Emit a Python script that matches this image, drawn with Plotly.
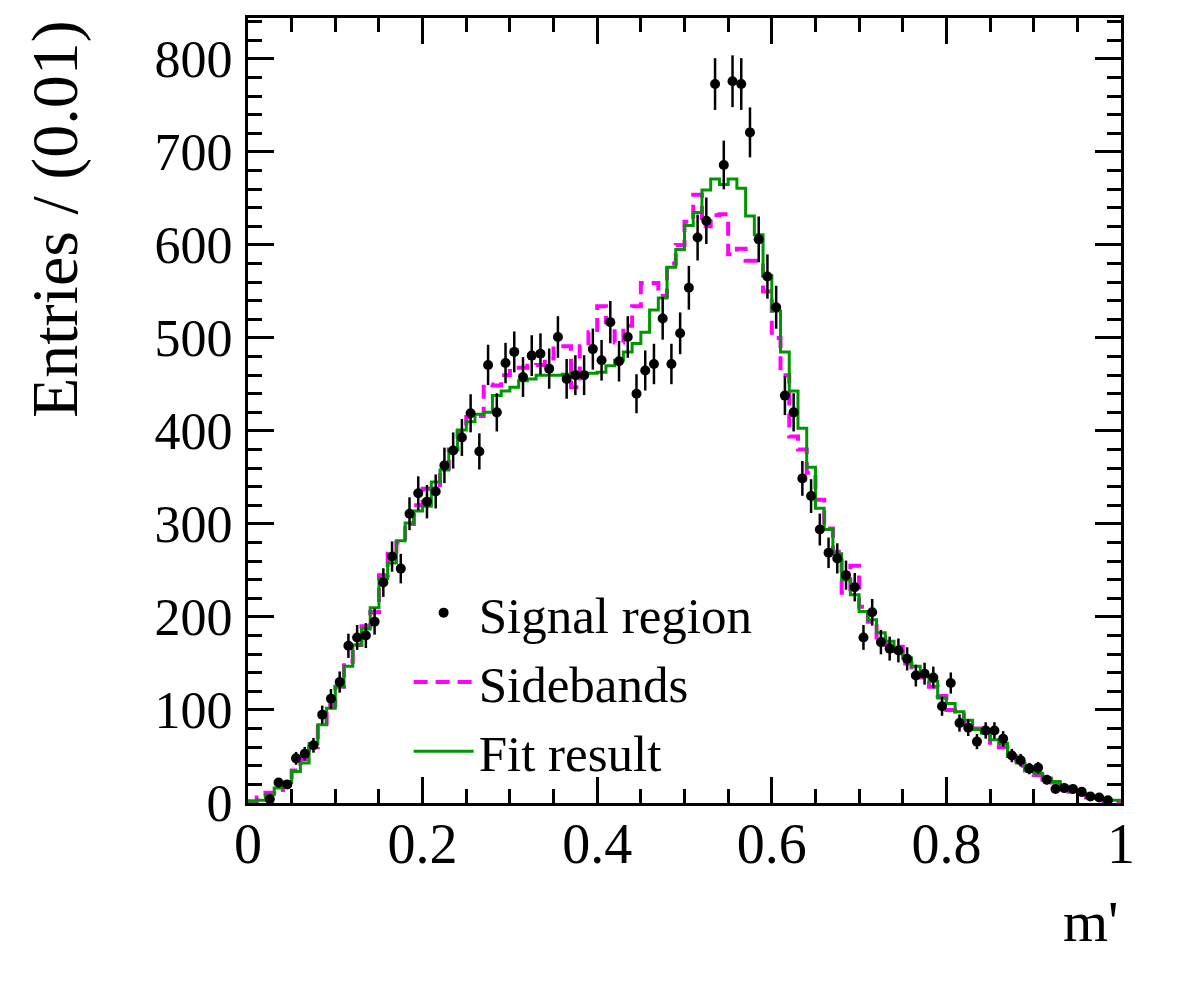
import numpy as np
import plotly.graph_objects as go

# ---- data (100 bins of width 0.01 on m' in [0, 1]) ----
bin_width = 0.01
n_bins = 100

signal_region = [
    0, 0, 4, 22, 20, 48, 53, 62, 95, 112,
    130, 169, 178, 180, 195, 237, 265, 252, 311, 333,
    324, 335, 363, 379, 393, 419, 378, 471, 420, 473,
    485, 458, 481, 483, 467, 501, 456, 460, 460, 488,
    476, 517, 475, 501, 440, 465, 472, 521, 472, 505,
    554, 608, 626, 773, 686, 776, 773, 721, 606, 566,
    533, 438, 420, 349, 330, 294, 269, 263, 245, 232,
    178, 205, 173, 166, 164, 155, 137, 139, 135, 104,
    129, 86, 81, 66, 78, 78, 69, 51, 46, 37,
    38, 25, 15, 16, 15, 12, 7, 6, 3, 0,
]

sidebands = [
    2, 6, 11, 14, 22, 35, 47, 60, 82, 105,
    125, 152, 170, 190, 205, 245, 268, 280, 300, 320,
    338, 342, 360, 380, 400, 415, 416, 450, 449, 460,
    468, 468, 470, 471, 478, 491, 491, 447, 491, 506,
    534, 517, 495, 513, 534, 559, 559, 545, 580, 600,
    625, 654, 620, 632, 633, 590, 596, 583, 583, 550,
    500, 460, 394, 380, 355, 326, 295, 270, 226, 255,
    211, 195, 178, 170, 168, 150, 140, 135, 125, 115,
    100, 95, 85, 80, 75, 62, 60, 50, 40, 35,
    30, 25, 22, 17, 12, 9, 6, 4, 2, 1,
]

fit_result = [
    2, 3, 9, 16, 22, 34, 43, 64, 84, 102,
    125, 147, 170, 187, 210, 241, 258, 282, 301, 314,
    319, 345, 358, 380, 401, 410, 418, 420, 438, 443,
    447, 454, 456, 460, 460, 460, 461, 462, 462, 462,
    463, 470, 476, 485, 494, 506, 530, 543, 576, 595,
    621, 635, 659, 671, 665, 671, 661, 631, 611, 567,
    529, 485, 443, 403, 361, 317, 294, 268, 240, 224,
    206, 197, 183, 174, 163, 156, 147, 136, 131, 113,
    107, 98, 89, 79, 75, 68, 64, 50, 43, 36,
    32, 27, 23, 18, 14, 10, 7, 5, 3, 3,
]

x_tick_vals = [0, 0.2, 0.4, 0.6, 0.8, 1.0]
x_tick_text = ["0", "0.2", "0.4", "0.6", "0.8", "1"]
y_tick_vals = [0, 100, 200, 300, 400, 500, 600, 700, 800]
y_tick_text = [str(v) for v in y_tick_vals]

# ---- derived structure ----
edges = np.arange(n_bins + 1) * bin_width
centers = edges[:-1] + bin_width / 2
sig = np.array(signal_region, dtype=float)
mask = sig > 0

def step(vals):
    return list(edges), list(vals) + [vals[-1]]

FONT = "Liberation Serif"
fig = go.Figure()

sx, sy = step(sidebands)
fig.add_trace(go.Scatter(
    x=sx, y=sy, mode="lines", line_shape="hv", name="Sidebands",
    line=dict(color="#ff00ff", width=4, dash="14px,8px"), legendrank=2,
))
fx, fy = step(fit_result)
fig.add_trace(go.Scatter(
    x=fx, y=fy, mode="lines", line_shape="hv", name="Fit result",
    line=dict(color="#009600", width=3), legendrank=3,
))
fig.add_trace(go.Scatter(
    x=centers[mask], y=sig[mask], mode="markers", name="Signal region",
    marker=dict(color="black", size=10),
    error_y=dict(type="data", array=np.sqrt(sig[mask]), color="black",
                 thickness=2.5, width=0),
    legendrank=1,
))

axis_common = dict(
    showline=True, linecolor="black", linewidth=3, mirror="ticks",
    ticks="inside", tickcolor="black", tickwidth=2.5, ticklen=26,
    showgrid=False, zeroline=False,
)

fig.update_layout(
    width=1182, height=1005,
    margin=dict(l=248, r=61, t=18, b=202),
    paper_bgcolor="white", plot_bgcolor="white",
    font=dict(family=FONT, color="black"),
    xaxis=dict(
        range=[0, 1], tickvals=x_tick_vals, ticktext=x_tick_text,
        tickfont=dict(family=FONT, size=56), ticklabelstandoff=-10,
        minor=dict(ticks="inside", ticklen=14, dtick=0.05, tickwidth=2.5,
                   tickcolor="black", showgrid=False),
        **axis_common,
    ),
    yaxis=dict(
        range=[0, 844], tickvals=y_tick_vals, ticktext=y_tick_text,
        tickfont=dict(family=FONT, size=52), ticklabelstandoff=2,
        minor=dict(ticks="inside", ticklen=14, dtick=20, tickwidth=2.5,
                   tickcolor="black", showgrid=False),
        **axis_common,
    ),
    legend=dict(
        x=0.184, y=0.293, xanchor="left", yanchor="top",
        bgcolor="rgba(0,0,0,0)", font=dict(family=FONT, size=51),
        traceorder="normal", itemwidth=60,
    ),
    showlegend=True,
    annotations=[
        dict(text="Entries / (0.01)", textangle=-90, xref="paper", yref="paper",
             x=-0.221, y=1.0, xanchor="center", yanchor="top", showarrow=False,
             font=dict(family=FONT, size=66)),
        dict(text="m'", xref="paper", yref="paper", x=1.0, y=-0.107,
             xanchor="right", yanchor="top", showarrow=False,
             font=dict(family=FONT, size=58)),
    ],
)

fig.write_html("out.html")
